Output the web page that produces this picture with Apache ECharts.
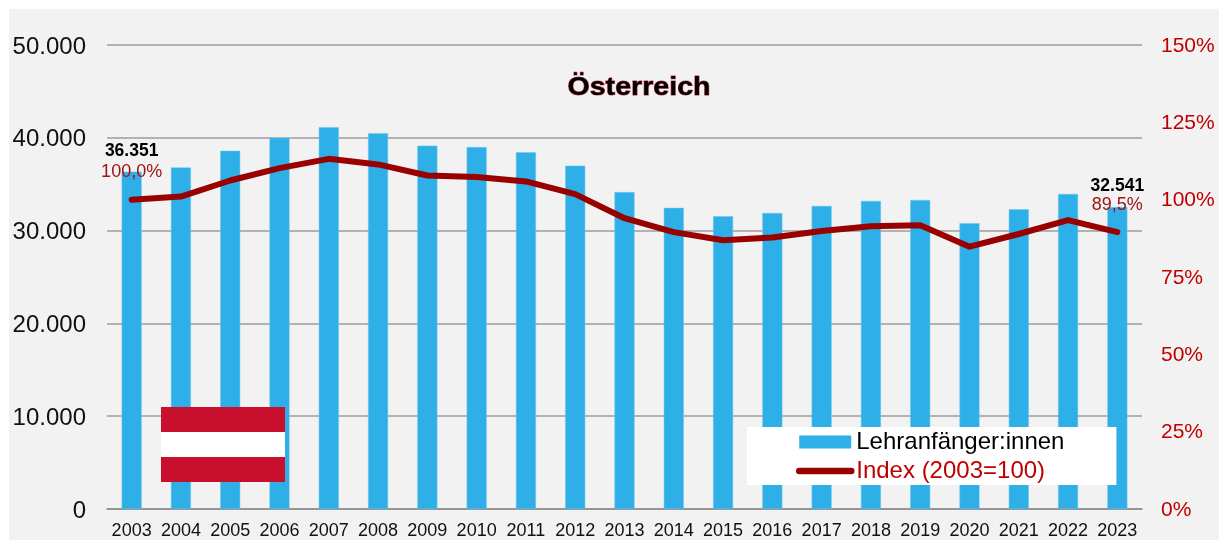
<!DOCTYPE html>
<html>
<head>
<meta charset="utf-8">
<script src="https://cdn.jsdelivr.net/npm/echarts@6/dist/echarts.min.js"></script>
<style>
  html, body { margin: 0; padding: 0; background: #fff; }
  #chart { width: 1223px; height: 540px; }
</style>
</head>
<body>
<div id="chart"></div>
<script>
const years = ['2003', '2004', '2005', '2006', '2007', '2008', '2009', '2010', '2011', '2012', '2013',
  '2014', '2015', '2016', '2017', '2018', '2019', '2020', '2021', '2022', '2023'];
const beginners = [36351, 36800, 38600, 40000, 41150, 40500, 39150, 39000, 38450, 37000, 34150,
  32450, 31550, 31900, 32650, 33200, 33300, 30800, 32300, 33950, 32541];
const indexValues = [100, 101, 106.2, 110.2, 113.2, 111.4, 107.8, 107.3, 105.9, 101.8, 94,
  89.5, 86.9, 87.8, 89.9, 91.4, 91.7, 84.8, 88.9, 93.4, 89.5];

const FONT = '"Liberation Sans", Arial, sans-serif';
const lastIndex = years.length - 1;

function formatThousands(value) {
  return value === 0 ? '0' : String(value).replace(/\B(?=(\d{3})+$)/g, '.');
}

const chart = echarts.init(document.getElementById('chart'));

chart.setOption({
  animation: false,
  backgroundColor: '#ffffff',
  textStyle: { fontFamily: FONT },
  grid: { left: 107, right: 81, top: 45, bottom: 31 },
  legend: {
    left: 747,
    top: 427,
    orient: 'vertical',
    align: 'left',
    backgroundColor: '#ffffff',
    padding: [3, 52, 2, 49],
    itemWidth: 52,
    itemHeight: 13,
    itemGap: 5,
    data: [
      { name: 'Lehranfänger:innen', icon: 'rect', itemStyle: { borderWidth: 0 }, textStyle: { color: '#000000' } },
      { name: 'Index (2003=100)', itemStyle: { opacity: 0 }, textStyle: { color: '#c00000' } },
    ],
    lineStyle: { width: 6.5, cap: 'round' },
    textStyle: { fontFamily: FONT, fontSize: 24 },
    selectedMode: false,
  },
  graphic: [
    { type: 'rect', z: -10, silent: true, shape: { x: 9, y: 9, width: 1210, height: 531 }, style: { fill: '#f2f2f2' } },
    { type: 'rect', z: 100, silent: true, shape: { x: 161, y: 407, width: 124, height: 25 }, style: { fill: '#c8102e' } },
    { type: 'rect', z: 100, silent: true, shape: { x: 161, y: 432, width: 124, height: 25 }, style: { fill: '#ffffff' } },
    { type: 'rect', z: 100, silent: true, shape: { x: 161, y: 457, width: 124, height: 25 }, style: { fill: '#c8102e' } },
    {
      // title is stretched a little, the original has wider tracking
      type: 'text',
      z: 100,
      silent: true,
      x: 639,
      y: 88,
      scaleX: 1.1,
      style: {
        text: 'Österreich',
        font: 'bold 26px ' + FONT,
        fill: '#000000',
        stroke: '#c8404f',
        lineWidth: 1,
        align: 'center',
        verticalAlign: 'middle',
      },
    },
  ],
  xAxis: {
    type: 'category',
    data: years,
    axisLine: { lineStyle: { color: '#8c8c8c', width: 1.5 } },
    axisTick: { length: 5, lineStyle: { color: '#8c8c8c', width: 1 } },
    axisLabel: { color: '#111111', fontFamily: FONT, fontSize: 18, margin: 13, interval: 0 },
  },
  yAxis: [
    {
      type: 'value',
      min: 0,
      max: 50000,
      interval: 10000,
      axisLine: { show: false },
      axisTick: { show: false },
      splitLine: { lineStyle: { color: '#9c9c9c', width: 1.5 } },
      axisLabel: {
        color: '#111111',
        fontFamily: FONT,
        fontSize: 24,
        margin: 21,
        // top-aligned with a negative padding, to sit just under the gridline
        verticalAlign: 'top',
        padding: [-10, 0, 0, 0],
        formatter: formatThousands,
      },
    },
    {
      type: 'value',
      min: 0,
      max: 150,
      interval: 25,
      position: 'right',
      axisLine: { show: false },
      axisTick: { show: false },
      splitLine: { show: false },
      axisLabel: {
        color: '#c00000',
        fontFamily: FONT,
        fontSize: 21,
        margin: 19,
        verticalAlign: 'top',
        padding: [-9.5, 0, 0, 0],
        formatter: '{value}%',
      },
    },
  ],
  series: [
    {
      name: 'Lehranfänger:innen',
      type: 'bar',
      barWidth: 20,
      data: beginners.map((value, i) => {
        if (i !== 0 && i !== lastIndex) return value;
        return {
          value,
          label: {
            show: true,
            position: 'top',
            distance: i === 0 ? 11 : 12,
            formatter: formatThousands(value),
            color: '#000000',
            fontFamily: FONT,
            fontSize: 17.5,
            fontWeight: 'bold',
          },
        };
      }),
      itemStyle: { color: '#2eafe8', borderColor: '#6cc6ee', borderWidth: 0.5 },
    },
    {
      name: 'Index (2003=100)',
      type: 'line',
      yAxisIndex: 1,
      symbol: 'none',
      data: indexValues.map((value, i) => {
        if (i !== 0 && i !== lastIndex) return value;
        return {
          value,
          symbol: 'circle',
          symbolSize: 1,
          label: {
            show: true,
            position: 'top',
            distance: 18,
            formatter: value.toFixed(1).replace('.', ',') + '%',
            color: '#a01414',
            fontFamily: FONT,
            fontSize: 18,
          },
        };
      }),
      lineStyle: { color: '#990000', width: 6, cap: 'round', join: 'round' },
      itemStyle: { color: '#990000' },
    },
  ],
});
</script>
</body>
</html>
